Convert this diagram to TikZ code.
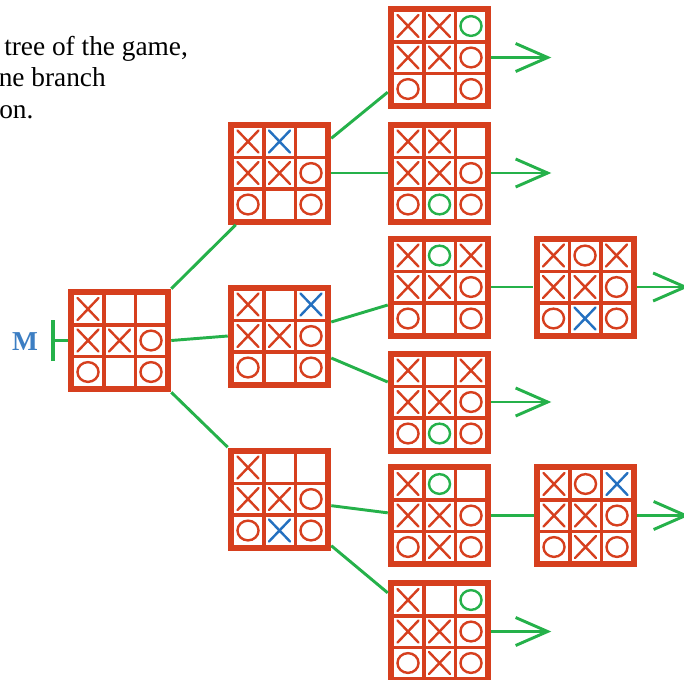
\documentclass[tikz,border=0pt]{standalone}
\usepackage{fontspec}
\setmainfont{Liberation Serif}
\usetikzlibrary{arrows.meta,calc,positioning}

\definecolor{mred}{HTML}{D63F1E}
\definecolor{mblue}{HTML}{2470C0}
\definecolor{mgreen}{HTML}{25B14A}
\definecolor{lblue}{HTML}{3C7EC3}

% one board: name, centre, crosses (col/row/colour), noughts (col/row/colour)
\newcommand{\board}[4]{%
  \node[board] (#1) at (#2) {};
  \foreach \i in {-1,0,1}
    \foreach \j in {-1,0,1}
      \fill[white] ($(#1)+(\i*31.5,\j*31.5)$) +(-14,-14) rectangle +(14,14);
  \foreach \i/\j/\c in {#3}
    \draw[pen,color=\c] ($(#1)+(\i*31.5,\j*31.5)$) +(-10.5,-11) -- +(10.5,11) +(-10.5,11) -- +(10.5,-11);
  \foreach \i/\j/\c in {#4}
    \draw[pen,color=\c] ($(#1)+(\i*31.5,\j*31.5)$) ellipse [x radius=7.9pt,y radius=7.4pt];
}

\begin{document}
\begin{tikzpicture}[x=0.75pt,y=-0.75pt,
  board/.style={fill=mred,minimum size=77.25pt,inner sep=0pt},
  pen/.style={line width=1.8pt,line cap=round},
  link/.style={mgreen,line width=2.2pt},
  move/.style={link,-{Straight Barb[length=24pt,width=21pt]}},
  txt/.style={anchor=base west,inner sep=0pt,font=\fontsize{20.5}{24}\selectfont}]
  \useasboundingbox (0,0) rectangle (684,679);
  \clip (0,0) rectangle (684,679);

  \node[txt] (t1) at (4,55) {tree of the game,};
  \node[txt] (t2) at (-1.5,86.5) {ne branch};
  \node[txt] (t3) at (-1,118) {on.};

  % root and first moves
  \board{b0}{119.5,340.5}{-1/-1/mred,-1/0/mred,0/0/mred}{1/0/mred,-1/1/mred,1/1/mred}
  \board{b1}{279.5,173}{-1/-1/mred,-1/0/mred,0/0/mred,0/-1/mblue}{1/0/mred,-1/1/mred,1/1/mred}
  \board{b2}{279.5,336}{-1/-1/mred,-1/0/mred,0/0/mred,1/-1/mblue}{1/0/mred,-1/1/mred,1/1/mred}
  \board{b3}{279.5,499}{-1/-1/mred,-1/0/mred,0/0/mred,0/1/mblue}{1/0/mred,-1/1/mred,1/1/mred}

  % replies
  \board{c1}{439.5,57.5}{-1/-1/mred,-1/0/mred,0/0/mred,0/-1/mred}{1/0/mred,-1/1/mred,1/1/mred,1/-1/mgreen}
  \board{c2}{439.5,173}{-1/-1/mred,-1/0/mred,0/0/mred,0/-1/mred}{1/0/mred,-1/1/mred,1/1/mred,0/1/mgreen}
  \board{c3}{439.5,287}{-1/-1/mred,-1/0/mred,0/0/mred,1/-1/mred}{1/0/mred,-1/1/mred,1/1/mred,0/-1/mgreen}
  \board{c4}{439.5,402}{-1/-1/mred,-1/0/mred,0/0/mred,1/-1/mred}{1/0/mred,-1/1/mred,1/1/mred,0/1/mgreen}
  \board{c5}{439.5,515.5}{-1/-1/mred,-1/0/mred,0/0/mred,0/1/mred}{1/0/mred,-1/1/mred,1/1/mred,0/-1/mgreen}
  \board{c6}{439.5,631.5}{-1/-1/mred,-1/0/mred,0/0/mred,0/1/mred}{1/0/mred,-1/1/mred,1/1/mred,1/-1/mgreen}

  \board{d1}{585,287}{-1/-1/mred,-1/0/mred,0/0/mred,1/-1/mred,0/1/mblue}{1/0/mred,-1/1/mred,1/1/mred,0/-1/mred}
  \board{d2}{585.5,515.5}{-1/-1/mred,-1/0/mred,0/0/mred,0/1/mred,1/-1/mblue}{1/0/mred,-1/1/mred,1/1/mred,0/-1/mred}

  % M and its bar
  \node[font=\fontsize{20.5}{24}\selectfont\bfseries,text=lblue] (m) at (25,342) {M};
  \coordinate (mbar) at (51,340.5);
  \draw[link,-{Bar[width=31pt,line width=3pt]}] (b0.west) -- (mbar);

  % tree edges
  \draw[link] (b0.north east) -- ([xshift=6pt]b1.south west);
  \draw[link] (b0.east) -- (b2.west);
  \draw[link] (b0.south east) -- (b3.north west);
  \draw[link] ([yshift=26pt]b1.east) -- ([yshift=-26pt]c1.west);
  \draw[link] (b1.east) -- (c2.west);
  \draw[link] ([yshift=10.5pt]b2.east) -- ([yshift=-13.5pt]c3.west);
  \draw[link] ([yshift=-16.5pt]b2.east) -- ([yshift=15pt]c4.west);
  \draw[link] ([yshift=-5pt]b3.east) -- ([yshift=2pt]c5.west);
  \draw[link] ([yshift=-35pt]b3.east) -- ([yshift=29pt]c6.west);
  \draw[link] (c3.east) -- (d1.west);
  \draw[link] (c5.east) -- (d2.west);

  % continuations
  \coordinate[right=45pt of c1] (c1end);
  \coordinate[right=45pt of c2] (c2end);
  \coordinate[right=45pt of c4] (c4end);
  \coordinate[right=45pt of c6] (c6end);
  \coordinate[right=39pt of d1] (d1end);
  \coordinate[right=39pt of d2] (d2end);
  \draw[move] (c1) -- (c1end);
  \draw[move] (c2) -- (c2end);
  \draw[move] (c4) -- (c4end);
  \draw[move] (c6) -- (c6end);
  \draw[move] (d1) -- (d1end);
  \draw[move] (d2) -- (d2end);
\end{tikzpicture}
\end{document}
